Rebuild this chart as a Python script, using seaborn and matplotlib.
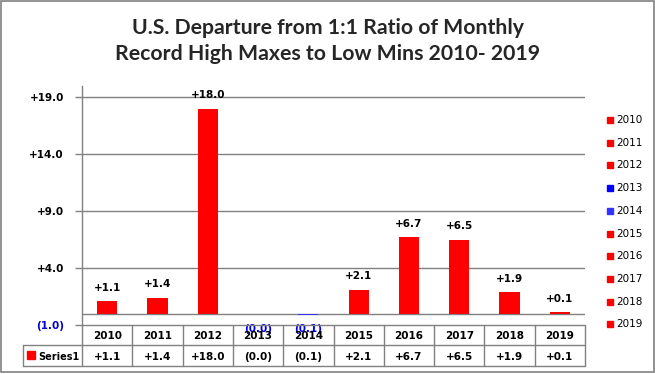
import matplotlib
matplotlib.use("Agg")
import matplotlib.pyplot as plt
import seaborn as sns
import pandas as pd
from matplotlib.patches import Rectangle
from matplotlib.lines import Line2D

years = ["2010", "2011", "2012", "2013", "2014", "2015", "2016", "2017", "2018", "2019"]
values = [1.1, 1.4, 18.0, -0.02, -0.1, 2.1, 6.7, 6.5, 1.9, 0.1]
colors = ["#ff0000", "#ff0000", "#ff0000", "#0000ff", "#3333ff",
          "#ff0000", "#ff0000", "#ff0000", "#ff0000", "#ff0000"]
yticks = [-1, 4, 9, 14, 19]
title = "U.S. Departure from 1:1 Ratio of Monthly\nRecord High Maxes to Low Mins 2010- 2019"
series_name = "Series1"

def fmt(v):
    return f"({abs(v):.1f})" if v < 0 else f"+{v:.1f}"

sns.set_theme(style="white")
plt.rcParams['font.family'] = ['DejaVu Sans']

W, H = 655, 374
fig = plt.figure(figsize=(W / 100, H / 100), dpi=100)
L, R, T, B = 82, 585, 86, 325
ax = fig.add_axes([L / W, 1 - B / H, (R - L) / W, (B - T) / H])

df = pd.DataFrame({"year": years, "value": values})
sns.barplot(data=df, x="year", y="value", hue="year", palette=dict(zip(years, colors)),
            width=0.4, dodge=False, legend=False, ax=ax, saturation=1,
            linewidth=0, edgecolor="none")

ax.set_ylim(-1, 20)
ax.set_xlim(-0.5, len(years) - 0.5)
ax.set_yticks(yticks)
ax.set_yticklabels([fmt(t) for t in yticks], fontsize=7.5, fontweight="bold")
for lab, t in zip(ax.get_yticklabels(), yticks):
    lab.set_color("#0000cc" if t < 0 else "black")
ax.set_xticks([])
ax.set_xlabel("")
ax.set_ylabel("")
ax.tick_params(axis="y", length=5, width=1, color="#808080", pad=8, left=True)
for y in yticks[1:]:
    ax.axhline(y, color="#808080", lw=1, zorder=0)
ax.axhline(0, color="#808080", lw=1, zorder=0.5)
for s in ["top", "right", "bottom"]:
    ax.spines[s].set_visible(False)
ax.spines["left"].set_color("#808080")
ax.spines["left"].set_linewidth(1)

# value labels
for i, v in enumerate(values):
    if v >= 0:
        ax.annotate(fmt(v), (i, v), xytext=(0, 6), textcoords="offset points",
                    ha="center", va="bottom", fontsize=7.5, fontweight="bold", color="black")
    else:
        ax.annotate(fmt(v), (i, -1), xytext=(0, -3), textcoords="offset points",
                    ha="center", va="center", fontsize=7.5, fontweight="bold", color="#0000ff")

# data table (figure pixel coords -> fractions)
def fx(x):
    return x / W

def fy(y):
    return 1 - y / H

gray = "#808080"
cw = (R - L) / len(years)
r1_top, r1_bot, r2_bot = B, 345, 366
hdr_left = 23
fig.add_artist(Line2D([fx(L), fx(R)], [fy(r1_top)] * 2, color=gray, lw=1))
fig.add_artist(Line2D([fx(hdr_left), fx(R)], [fy(r1_bot)] * 2, color=gray, lw=1))
fig.add_artist(Line2D([fx(hdr_left), fx(R)], [fy(r2_bot)] * 2, color=gray, lw=1))
fig.add_artist(Line2D([fx(hdr_left)] * 2, [fy(r1_bot), fy(r2_bot)], color=gray, lw=1))
for k in range(len(years) + 1):
    x = L + k * cw
    fig.add_artist(Line2D([fx(x)] * 2, [fy(r1_top), fy(r2_bot)], color=gray, lw=1))
for k, (yr, v) in enumerate(zip(years, values)):
    cx = L + (k + 0.5) * cw
    fig.text(fx(cx), fy((r1_top + r1_bot) / 2 + 1), yr, ha="center", va="center",
             fontsize=7.5, fontweight="bold", color="black")
    fig.text(fx(cx), fy((r1_bot + r2_bot) / 2 + 1), fmt(v), ha="center", va="center",
             fontsize=7.5, fontweight="bold", color="black")
fig.add_artist(Rectangle((fx(27), fy(359)), 8 / W, 8 / H, color="#ff0000", transform=fig.transFigure))
fig.text(fx(38), fy((r1_bot + r2_bot) / 2 + 1), series_name, ha="left", va="center",
         fontsize=7, fontweight="bold", color="black")

# legend
for k, (yr, c) in enumerate(zip(years, colors)):
    y = 120 + k * 22.7
    fig.add_artist(Rectangle((fx(607), fy(y + 3)), 6 / W, 6 / H, color=c, transform=fig.transFigure))
    fig.text(fx(616), fy(y), yr, ha="left", va="center", fontsize=7.5, color="black")

# title
fig.text(0.5, fy(41), title, ha="center", va="center", fontsize=15.3, fontweight="bold",
         family=["Lato", "DejaVu Sans"], linespacing=1.32)

# outer border
fig.add_artist(Rectangle((fx(1), fy(372)), 653 / W, 371 / H, fill=False, edgecolor=gray,
                         lw=1.2, transform=fig.transFigure))

fig.savefig("out.png", dpi=100)
